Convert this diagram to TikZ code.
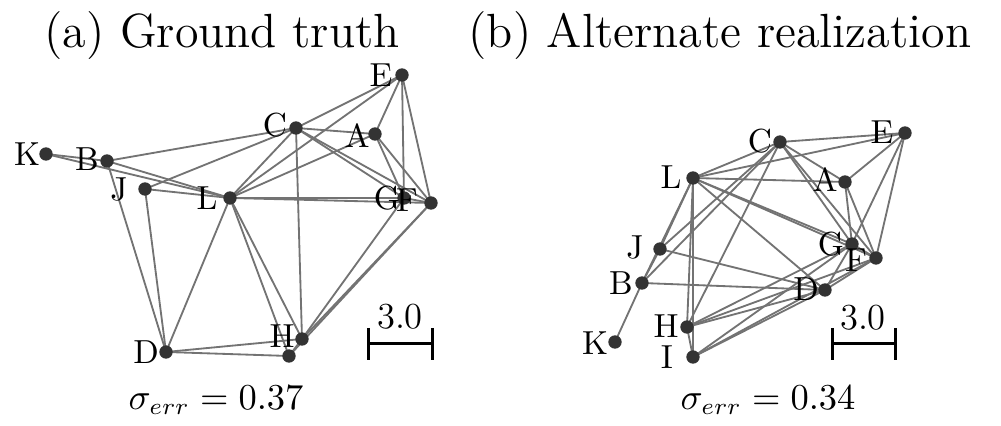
\documentclass[tikz,border=0pt]{standalone}
\begin{document}
\begin{tikzpicture}[x=0.3pt,y=-0.3pt,
  edge/.style={draw=black!55,line width=0.55pt},
  dot/.style={circle,fill=black!80,inner sep=0pt,minimum size=4pt},
  lbl/.style={inner sep=0pt,font=\fontsize{10}{12}\selectfont},
  ttl/.style={inner sep=0pt,font=\fontsize{14.4}{17}\selectfont},
  sig/.style={inner sep=0pt,font=\fontsize{10.5}{13}\selectfont},
  sbar/.style={draw=black,line width=0.9pt},
  slbl/.style={inner sep=0pt,font=\fontsize{11}{13}\selectfont}]
\useasboundingbox (0,0) rectangle (1001,426);
% ---------- panel (a) ----------
\coordinate (aK) at (46,154);
\coordinate (aB) at (107,161);
\coordinate (aJ) at (145,189);
\coordinate (aL) at (230,198);
\coordinate (aC) at (296,128);
\coordinate (aA) at (375,134);
\coordinate (aE) at (402,75);
\coordinate (aG) at (404,198);
\coordinate (aF) at (431,203);
\coordinate (aH) at (302,339);
\coordinate (aI) at (289,356);
\coordinate (aD) at (166,352);
\foreach \u/\v in {K/B,K/L,B/L,B/C,B/D,J/C,J/D,J/L,
  L/C,L/A,L/E,L/G,L/F,L/D,L/H,L/I,
  C/E,C/A,C/G,C/F,C/H,
  A/E,A/G,A/F,E/G,E/F,G/F,
  D/H,D/I,H/G,H/F,I/F,H/I}
  \draw[edge] (a\u) -- (a\v);
\foreach \n in {K,B,J,L,C,A,E,G,F,H,I,D}
  \node[dot] (da\n) at (a\n) {};
\node[lbl] (laK) at (27,154) {K};
\node[lbl] (laB) at (87,159) {B};
\node[lbl] (laJ) at (119,189) {J};
\node[lbl] (laL) at (207,198) {L};
\node[lbl] (laC) at (275,125) {C};
\node[lbl] (laA) at (357,136) {A};
\node[lbl] (laE) at (381,75) {E};
\node[lbl] (laG) at (387,198) {G};
\node[lbl] (laF) at (407,200) {F};
\node[lbl] (laH) at (282,336) {H};
\node[lbl] (laD) at (146,352) {D};
\coordinate (asl) at (368,344);
\coordinate (asr) at (432,344);
\draw[sbar] (368,328) -- (368,360);
\draw[sbar] (432,328) -- (432,360);
\draw[sbar] (asl) -- (asr);
\node[slbl] (as) at (400,317) {3.0};
\node[ttl] (ta) at (222,36) {(a) Ground truth};
\node[sig] (sa) at (216,400) {$\sigma_{err}=0.37$};
% ---------- panel (b) ----------
\coordinate (bC) at (780,142);
\coordinate (bE) at (905,133);
\coordinate (bA) at (845,182);
\coordinate (bG) at (852,244);
\coordinate (bF) at (876,258);
\coordinate (bD) at (825,290);
\coordinate (bL) at (693,178);
\coordinate (bJ) at (660,249);
\coordinate (bB) at (642,283);
\coordinate (bK) at (615,342);
\coordinate (bH) at (687,327);
\coordinate (bI) at (693,357);
\foreach \u/\v in {K/B,B/J,B/L,J/L,J/C,B/C,J/D,B/D,
  L/C,L/E,L/A,L/G,L/F,L/D,L/H,L/I,
  C/A,C/G,C/F,C/E,C/H,
  E/A,E/G,E/F,A/G,A/F,G/F,G/D,F/D,
  H/G,H/F,H/D,I/G,I/F,I/D,H/I}
  \draw[edge] (b\u) -- (b\v);
\foreach \n in {K,B,J,L,C,A,E,G,F,H,I,D}
  \node[dot] (db\n) at (b\n) {};
\node[lbl] (lbC) at (760,141) {C};
\node[lbl] (lbE) at (882,132) {E};
\node[lbl] (lbA) at (825,180) {A};
\node[lbl] (lbG) at (831,244) {G};
\node[lbl] (lbF) at (856,260) {F};
\node[lbl] (lbD) at (806,289) {D};
\node[lbl] (lbL) at (671,177) {L};
\node[lbl] (lbJ) at (635,247) {J};
\node[lbl] (lbB) at (621,283) {B};
\node[lbl] (lbK) at (595,343) {K};
\node[lbl] (lbH) at (666,326) {H};
\node[lbl] (lbI) at (667,357) {I};
\coordinate (bsl) at (832,344);
\coordinate (bsr) at (895,344);
\draw[sbar] (832,328) -- (832,360);
\draw[sbar] (895,328) -- (895,360);
\draw[sbar] (bsl) -- (bsr);
\node[slbl] (bs) at (863,318) {3.0};
\node[ttl] (tb) at (720,36) {(b) Alternate realization};
\node[sig] (sb) at (768,400) {$\sigma_{err}=0.34$};
\end{tikzpicture}
\end{document}
